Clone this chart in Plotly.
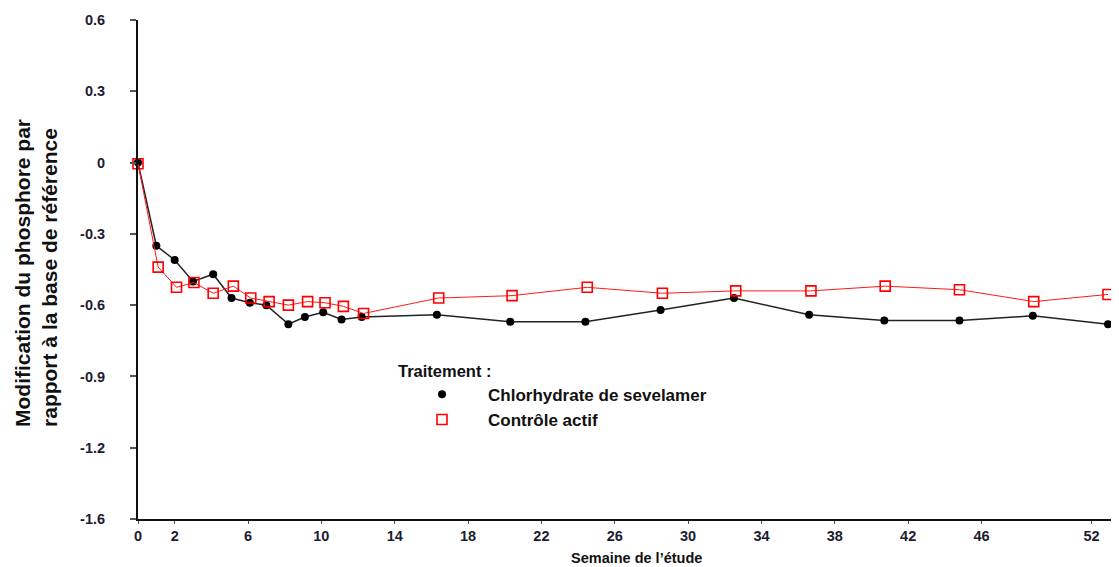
import plotly.graph_objects as go

# Data
weeks_sev = [0, 1, 2, 3, 4.1, 5.1, 6.1, 7, 8.2, 9.1, 10.1, 11.1, 12.2,
             16.3, 20.3, 24.4, 28.5, 32.5, 36.6, 40.7, 44.8, 48.8, 52.9]
sevelamer = [0, -0.35, -0.41, -0.50, -0.47, -0.57, -0.59, -0.60, -0.68, -0.65, -0.63, -0.66, -0.65,
             -0.64, -0.67, -0.67, -0.62, -0.57, -0.64, -0.665, -0.665, -0.645, -0.68]

weeks_ctl = [0, 1.1, 2.1, 3.05, 4.1, 5.2, 6.15, 7.15, 8.2, 9.25, 10.2, 11.2, 12.3,
             16.4, 20.4, 24.5, 28.6, 32.6, 36.7, 40.75, 44.8, 48.85, 52.9]
controle = [-0.005, -0.44, -0.525, -0.505, -0.55, -0.52, -0.57, -0.585, -0.60, -0.585, -0.59, -0.605, -0.635,
            -0.57, -0.56, -0.525, -0.55, -0.54, -0.54, -0.52, -0.535, -0.585, -0.555]

x_ticks = [0, 2, 6, 10, 14, 18, 22, 26, 30, 34, 38, 42, 46, 52]
y_tickvals = [0.6, 0.3, 0, -0.3, -0.6, -0.9, -1.2, -1.5]
y_ticktext = ["0.6", "0.3", "0", "-0.3", "-0.6", "-0.9", "-1.2", "-1.6"]

series_names = ["Chlorhydrate de sevelamer", "Contrôle actif"]

FONT = "Liberation Sans, Arial, sans-serif"
TICKCOL = "#1c1c30"

sev_marker = dict(symbol="circle", size=8, color="#000000")
ctl_marker = dict(symbol="square-open", size=10, color="#ff0000", line=dict(width=1.6))

fig = go.Figure()
fig.add_trace(go.Scatter(
    x=weeks_sev, y=sevelamer, name=series_names[0], mode="lines+markers",
    line=dict(color="#222222", width=1.5), marker=sev_marker,
    cliponaxis=False, showlegend=False,
))
fig.add_trace(go.Scatter(
    x=weeks_ctl, y=controle, name=series_names[1], mode="lines+markers",
    line=dict(color="#ff1a1a", width=1), marker=ctl_marker,
    cliponaxis=False, showlegend=False,
))
# legend entries (markers only, as in the reference)
fig.add_trace(go.Scatter(x=[None], y=[None], name=series_names[0], mode="markers", marker=sev_marker))
fig.add_trace(go.Scatter(x=[None], y=[None], name=series_names[1], mode="markers", marker=ctl_marker))

fig.update_layout(
    width=1111, height=559,
    margin=dict(l=130, r=0, t=12, b=48),
    paper_bgcolor="white", plot_bgcolor="white",
    font=dict(family=FONT, color="#111111"),
    showlegend=True,
    legend=dict(
        x=0.263, y=0.328, xanchor="left", yanchor="top",
        bgcolor="rgba(0,0,0,0)",
        title=dict(text="Traitement :", font=dict(family=FONT, size=16.5, weight="bold", color="#111111")),
        font=dict(family=FONT, size=17, weight="bold", color="#111111"),
        itemwidth=82,
        tracegroupgap=0,
    ),
    xaxis=dict(
        range=[0, 53.5], tickvals=x_ticks, ticktext=[str(v) for v in x_ticks],
        showgrid=False, zeroline=False,
        showline=True, linecolor="#111111", linewidth=2,
        ticks="outside", ticklen=3, tickcolor="#555555", tickwidth=1,
        tickfont=dict(family=FONT, size=14.5, weight="bold", color=TICKCOL),
    ),
    yaxis=dict(
        range=[-1.5, 0.6], tickvals=y_tickvals, ticktext=y_ticktext,
        showgrid=False, zeroline=False,
        showline=True, linecolor="#111111", linewidth=2,
        ticks="outside", ticklen=6, tickcolor="#555555", tickwidth=2,
        ticklabelstandoff=22,
        tickfont=dict(family=FONT, size=14.5, weight="bold", color=TICKCOL),
    ),
    annotations=[
        dict(
            text="Modification du phosphore par<br>rapport à la base de référence",
            xref="paper", yref="paper", x=-0.1035, y=0.494,
            xanchor="center", yanchor="middle", textangle=-90, align="left",
            showarrow=False,
            font=dict(family=FONT, size=21, weight="bold", color="#111111"),
        ),
        dict(
            text="Semaine de l’étude",
            xref="paper", yref="paper", x=0.508, y=-0.078,
            xanchor="center", yanchor="middle", showarrow=False,
            font=dict(family=FONT, size=14.5, weight="bold", color="#111111"),
        ),
    ],
)

fig.write_html("out.html")
